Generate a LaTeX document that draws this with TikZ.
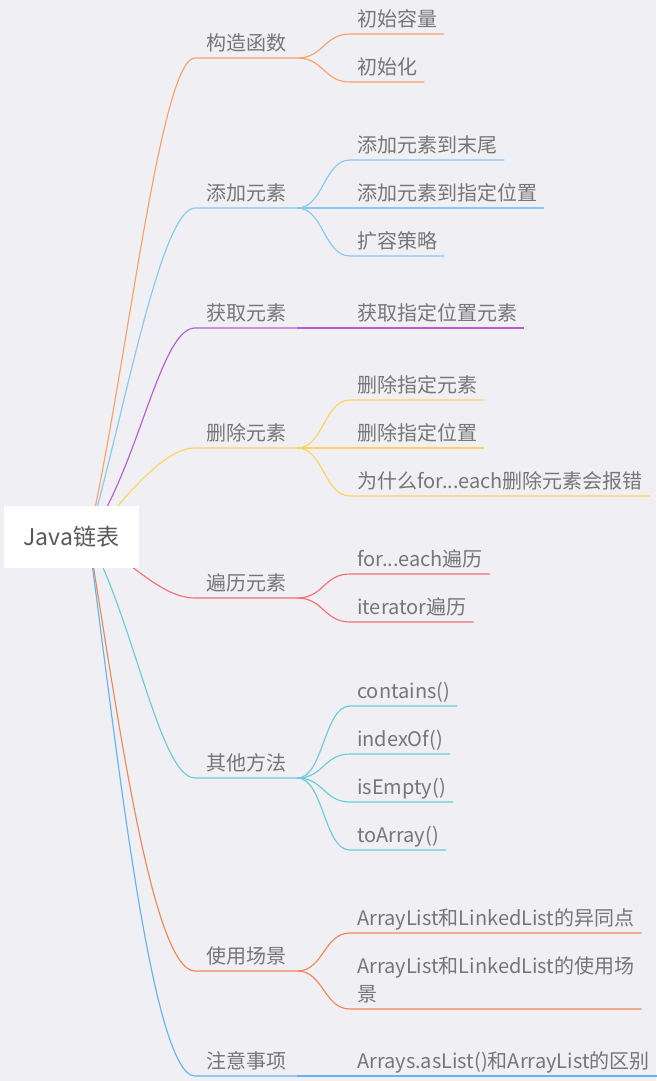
\documentclass[tikz,border=0pt]{standalone}
\usepackage{fontspec}
\setmainfont{Noto Sans CJK SC}
\usepackage{xcolor}
\usetikzlibrary{backgrounds}

\definecolor{bgcol}{RGB}{240,240,244}
\definecolor{txtcol}{RGB}{118,118,118}
\definecolor{cA}{RGB}{250,160,105}
\definecolor{cB}{RGB}{135,200,245}
\definecolor{cC}{RGB}{180,95,210}
\definecolor{cD}{RGB}{255,210,95}
\definecolor{cE}{RGB}{245,110,120}
\definecolor{cF}{RGB}{105,205,215}
\definecolor{cG}{RGB}{240,135,85}
\definecolor{cH}{RGB}{100,180,240}

\begin{document}
\begin{tikzpicture}[
  x=1pt, y=-1pt,
  root/.style={fill=white, minimum width=135pt, minimum height=62pt, inner sep=0pt,
               font=\fontsize{23}{28}\selectfont, text=black!65},
  lbl/.style={anchor=south west, inner ysep=6pt, font=\fontsize{20}{28}\selectfont, text=txtcol},
  cat/.style={lbl, inner xsep=11pt, text height=15pt, text depth=1pt},
  leaf/.style={lbl, inner xsep=7pt, text height=15pt, text depth=1pt},
  br/.style={line width=1.15pt},
]
\useasboundingbox (0,0) rectangle (656,1081);

\node[root] (root) at (71.5,537) {Java链表};

% first level
\node[cat] (ctor) at (195,58) {构造函数};
\node[cat] (add) at (195,208) {添加元素};
\node[cat] (get) at (195,328) {获取元素};
\node[cat] (del) at (195,448) {删除元素};
\node[cat] (iter) at (195,598) {遍历元素};
\node[cat] (misc) at (195,778) {其他方法};
\node[cat] (use) at (195,971) {使用场景};
\node[cat] (note) at (195,1076) {注意事项};

% second level
\node[leaf] (cap) at (350,34) {初始容量};
\node[leaf] (init) at (350,82) {初始化};
\node[leaf] (addEnd) at (350,160) {添加元素到末尾};
\node[leaf] (addAt) at (350,208) {添加元素到指定位置};
\node[leaf] (grow) at (350,256) {扩容策略};
\node[leaf] (getAt) at (350,328) {获取指定位置元素};
\node[leaf] (delObj) at (350,400) {删除指定元素};
\node[leaf] (delAt) at (350,448) {删除指定位置};
\node[leaf] (delErr) at (350,496) {为什么for...each删除元素会报错};
\node[leaf] (forEach) at (350,574) {for...each遍历};
\node[leaf] (itr) at (350,622) {iterator遍历};
\node[leaf] (contains) at (350,706) {contains()};
\node[leaf] (indexOf) at (350,754) {indexOf()};
\node[leaf] (isEmpty) at (350,802) {isEmpty()};
\node[leaf] (toArray) at (350,850) {toArray()};
\node[leaf] (diff) at (350,933) {ArrayList和LinkedList的异同点};
\node[lbl, inner xsep=7pt, align=left] (scene) at (350,1009) {ArrayList和LinkedList的使用场\\景};
\node[leaf] (asList) at (350,1076) {Arrays.asList()和ArrayList的区别};

\begin{scope}[on background layer]
\fill[bgcol] (0,0) rectangle (656,1081);
% root to first level
\draw[br, cA] (root.center) ++(17,1) .. controls +(37,-160) and +(-35,0) .. (ctor.south west) -- (ctor.south east);
\draw[br, cB] (root.center) ++(17,1) .. controls +(33,-110) and +(-35,0) .. (add.south west) -- (add.south east);
\draw[br, cC] (root.center) ++(17,1) .. controls +(50,-70) and +(-35,0) .. (get.south west) -- (get.south east);
\draw[br, cD] (root.center) ++(17,1) .. controls +(30,-30) and +(-35,0) .. (del.south west) -- (del.south east);
\draw[br, cE] (root.center) ++(17,1) .. controls +(40,20) and +(-35,0) .. (iter.south west) -- (iter.south east);
\draw[br, cF] (root.center) ++(17,1) .. controls +(45,80) and +(-35,0) .. (misc.south west) -- (misc.south east);
\draw[br, cG] (root.center) ++(17,1) .. controls +(25,144) and +(-45,0) .. (use.south west) -- (use.south east);
\draw[br, cH] (root.center) ++(17,1) .. controls +(25,179) and +(-45,0) .. (note.south west) -- (note.south east);
% first to second level
\draw[br, cA] (ctor.south east) .. controls +(26,0) and +(-26,0) .. (cap.south west) -- (cap.south east);
\draw[br, cA] (ctor.south east) .. controls +(26,0) and +(-26,0) .. (init.south west) -- (init.south east);
\draw[br, cB] (add.south east) .. controls +(26,0) and +(-26,0) .. (addEnd.south west) -- (addEnd.south east);
\draw[br, cB] (add.south east) .. controls +(26,0) and +(-26,0) .. (addAt.south west) -- (addAt.south east);
\draw[br, cB] (add.south east) .. controls +(26,0) and +(-26,0) .. (grow.south west) -- (grow.south east);
\draw[br, cC] (get.south east) -- (getAt.south west) -- (getAt.south east);
\draw[br, cD] (del.south east) .. controls +(26,0) and +(-26,0) .. (delObj.south west) -- (delObj.south east);
\draw[br, cD] (del.south east) .. controls +(26,0) and +(-26,0) .. (delAt.south west) -- (delAt.south east);
\draw[br, cD] (del.south east) .. controls +(26,0) and +(-26,0) .. (delErr.south west) -- (delErr.south east);
\draw[br, cE] (iter.south east) .. controls +(26,0) and +(-26,0) .. (forEach.south west) -- (forEach.south east);
\draw[br, cE] (iter.south east) .. controls +(26,0) and +(-26,0) .. (itr.south west) -- (itr.south east);
\draw[br, cF] (misc.south east) .. controls +(26,0) and +(-26,0) .. (contains.south west) -- (contains.south east);
\draw[br, cF] (misc.south east) .. controls +(26,0) and +(-26,0) .. (indexOf.south west) -- (indexOf.south east);
\draw[br, cF] (misc.south east) .. controls +(26,0) and +(-26,0) .. (isEmpty.south west) -- (isEmpty.south east);
\draw[br, cF] (misc.south east) .. controls +(26,0) and +(-26,0) .. (toArray.south west) -- (toArray.south east);
\draw[br, cG] (use.south east) .. controls +(26,0) and +(-26,0) .. (diff.south west) -- (diff.south east);
\draw[br, cG] (use.south east) .. controls +(26,0) and +(-26,0) .. (scene.south west) -- (scene.south east);
\draw[br, cH] (note.south east) -- (asList.south west) -- (asList.south east);
\end{scope}
\end{tikzpicture}
\end{document}
